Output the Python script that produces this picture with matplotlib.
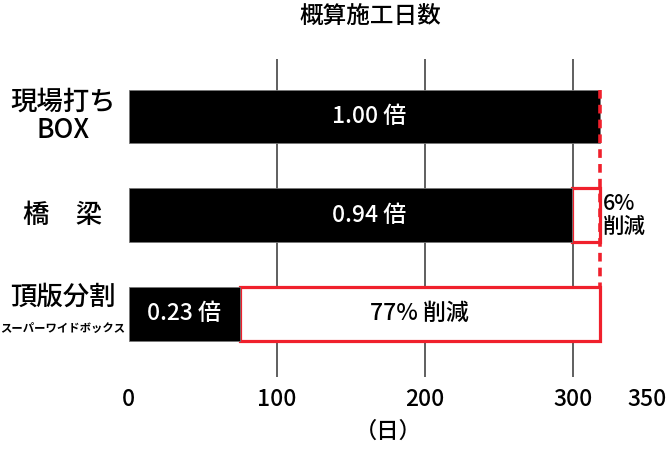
import matplotlib
matplotlib.use("Agg")
import matplotlib.pyplot as plt

plt.rcParams["font.family"] = ["Noto Sans CJK JP", "DejaVu Sans"]

# data
categories = ["現場打ち\nBOX", "橋　梁", "頂版分割"]
sub_label = "スーパーワイドボックス"
base_days = 318
actual_days = [318, 299, 75]
ratio_labels = ["1.00 倍", "0.94 倍", "0.23 倍"]
cut_labels = [None, "6%\n削減", "77% 削減"]
xticks = [0, 100, 200, 300, 350]

red = "#f0202c"

fig = plt.figure(figsize=(6.68, 4.51), dpi=100)
ax = fig.add_axes([0.193, 0.164, 0.7756, 0.705])

ypos = list(range(len(categories)))
h = 0.54

# reduction boxes (red outline) from actual to base
for y, d in zip(ypos, actual_days):
    if d < base_days:
        ax.barh(y, base_days - d, left=d, height=h, color="white",
                edgecolor=red, linewidth=2.3, zorder=3)

ax.barh(ypos, actual_days, height=h, color="black", edgecolor="#777777",
        linewidth=0.6, zorder=4)

# dashed reference line at base value
ax.plot([base_days, base_days], [-h / 2, 2 - h / 2], color=red, lw=2.6,
        ls=(0, (2.4, 1.7)), zorder=5)

# labels inside bars
for y, d, lab in zip(ypos, actual_days, ratio_labels):
    x = d / 2 if d < base_days * 0.5 else base_days / 2 + 3
    ax.text(x, y, lab, color="white", ha="center", va="center",
            fontsize=16.5, fontweight="medium", zorder=6)

ax.text(base_days + 2, 1, cut_labels[1], ha="left", va="center",
        fontsize=15.5, fontweight="medium", linespacing=1.05, zorder=6)
ax.text((actual_days[2] + base_days) / 2, 2, cut_labels[2], ha="center",
        va="center", fontsize=16.5, fontweight="medium", zorder=6)

ax.set_xlim(0, 350)
ax.set_ylim(2.64, -0.58)
for gx in [100, 200, 300]:
    ax.axvline(gx, color="#444444", lw=1.2, zorder=1)

ax.set_xticks(xticks)
ax.set_xticklabels([str(t) for t in xticks], fontsize=16.5,
                   fontweight="medium")
ax.tick_params(axis="x", length=0, pad=8)
ax.set_yticks([])
for s in ax.spines.values():
    s.set_visible(False)

# category labels, centred in the left margin
lx = -66 / 1.48
for y, c in zip(ypos[:2], categories[:2]):
    ax.text(lx, y, c, ha="center", va="center", fontsize=19,
            fontweight="medium", linespacing=1.1)
ax.text(lx, 2 - 0.17, categories[2], ha="center", va="center",
        fontsize=19, fontweight="medium")
ax.text(lx, 2 + 0.15, sub_label, ha="center", va="center",
        fontsize=8.2, fontweight="bold")

ax.set_xlabel("（日）", fontsize=16, fontweight="medium", labelpad=6)
fig.text(0.555, 0.962, "概算施工日数", ha="center", va="center",
         fontsize=17, fontweight="medium")

fig.savefig("out.png", dpi=100)
